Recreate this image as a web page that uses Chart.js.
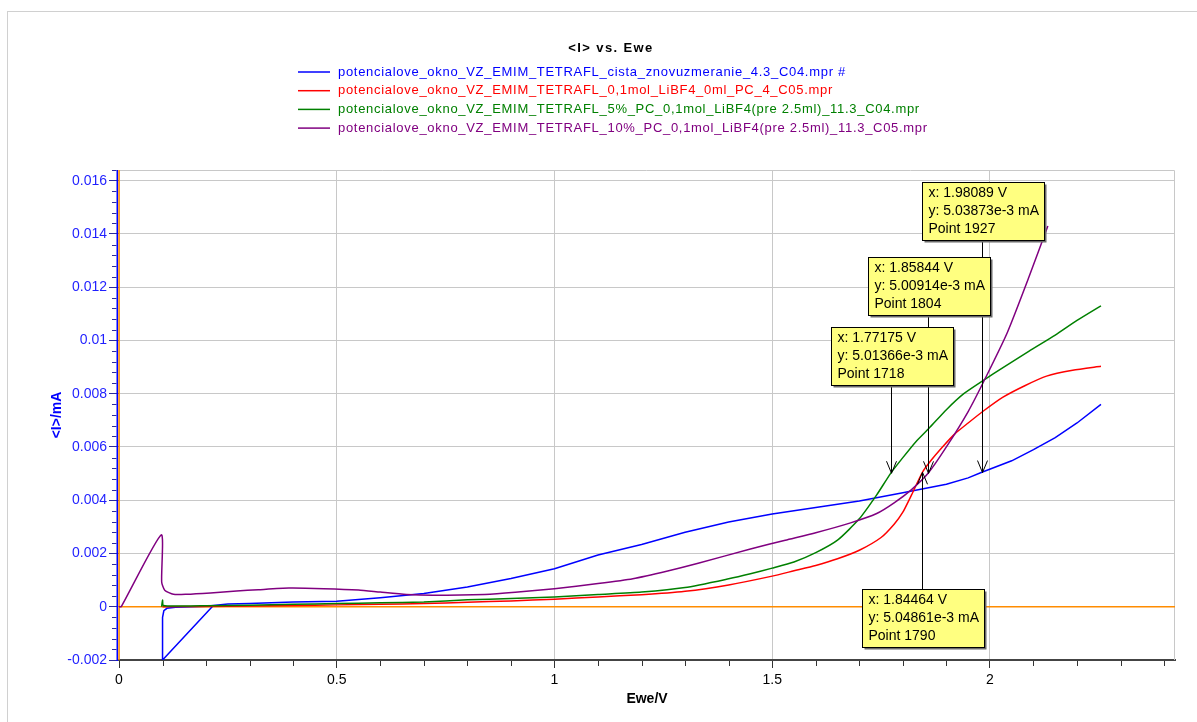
<!DOCTYPE html>
<html>
<head>
<meta charset="utf-8">
<script src="https://cdn.jsdelivr.net/npm/chart.js@4.4.1/dist/chart.umd.min.js"></script>
<style>
  html, body { margin: 0; padding: 0; background: #fff; }
  canvas { display: block; }
</style>
</head>
<body>
<canvas id="myChart" width="1197" height="722"></canvas>
<script>
// series names / colours
const seriesNames = [
  'potencialove_okno_VZ_EMIM_TETRAFL_cista_znovuzmeranie_4.3_C04.mpr #',
  'potencialove_okno_VZ_EMIM_TETRAFL_0,1mol_LiBF4_0ml_PC_4_C05.mpr',
  'potencialove_okno_VZ_EMIM_TETRAFL_5%_PC_0,1mol_LiBF4(pre 2.5ml)_11.3_C04.mpr',
  'potencialove_okno_VZ_EMIM_TETRAFL_10%_PC_0,1mol_LiBF4(pre 2.5ml)_11.3_C05.mpr'
];
const seriesColors = ['#0000ff', '#ff0000', '#008000', '#800080'];

// Ewe/V and <I>/mA
const blueX = [0.215, 0.1, 0.1, 0.103, 0.11, 0.13, 0.2, 0.25, 0.3, 0.4, 0.5, 0.6, 0.7, 0.8, 0.9, 1.0, 1.1, 1.2, 1.3, 1.4, 1.5, 1.6, 1.7, 1.8, 1.85, 1.9, 1.95, 1.98, 2.05, 2.1, 2.15, 2.2, 2.255];
const blueY = [0.00002, -0.002, -0.0004, -0.00015, -0.00006, -0.00002, 0.00002, 0.0001, 0.00012, 0.00018, 0.00021, 0.00034, 0.0005, 0.00074, 0.00106, 0.00143, 0.00194, 0.00234, 0.0028, 0.00318, 0.00348, 0.00373, 0.00397, 0.00428, 0.00444, 0.0046, 0.00484, 0.00504, 0.00548, 0.0059, 0.00635, 0.0069, 0.0076];

const redX = [0.1, 0.2, 0.3, 0.4, 0.5, 0.6, 0.7, 0.8, 0.9, 1.0, 1.1, 1.2, 1.3, 1.4, 1.5, 1.55, 1.6, 1.65, 1.7, 1.75, 1.78, 1.8, 1.82, 1.845, 1.865, 1.89, 1.92, 1.95, 1.985, 2.03, 2.08, 2.13, 2.19, 2.255];
const redY = [0.0, 0.00001, 0.00003, 0.00005, 0.00007, 0.00009, 0.00012, 0.00017, 0.00022, 0.00028, 0.00037, 0.00045, 0.00058, 0.00082, 0.00115, 0.00135, 0.00155, 0.0018, 0.00212, 0.0026, 0.0031, 0.00355, 0.0042, 0.00505, 0.0055, 0.00598, 0.0065, 0.0069, 0.00735, 0.00787, 0.0083, 0.00866, 0.00888, 0.00903];

const greenX = [0.098, 0.1, 0.102, 0.15, 0.2, 0.3, 0.4, 0.5, 0.6, 0.7, 0.8, 0.9, 1.0, 1.1, 1.2, 1.3, 1.4, 1.45, 1.5, 1.55, 1.6, 1.65, 1.7, 1.74, 1.772, 1.8, 1.83, 1.86, 1.9, 1.94, 1.985, 2.03, 2.09, 2.15, 2.2, 2.255];
const greenY = [0.0, 0.00025, 0.00005, 0.00003, 0.00004, 0.00006, 0.00009, 0.00012, 0.00015, 0.00018, 0.00026, 0.00031, 0.00037, 0.00046, 0.00055, 0.00072, 0.00105, 0.00124, 0.00145, 0.00168, 0.00203, 0.0025, 0.0033, 0.0042, 0.00501, 0.0056, 0.0062, 0.0067, 0.0074, 0.008, 0.0085, 0.00898, 0.0096, 0.0102, 0.01075, 0.0113];

const purpleX = [0.0, 0.005, 0.097, 0.098, 0.105, 0.125, 0.155, 0.21, 0.27, 0.32, 0.39, 0.47, 0.55, 0.6, 0.66, 0.72, 0.84, 0.91, 1.0, 1.1, 1.18, 1.26, 1.33, 1.45, 1.53, 1.6, 1.68, 1.74, 1.78, 1.82, 1.858, 1.9, 1.95, 1.99, 2.04, 2.09, 2.133];
const purpleY = [0.0, 0.0, 0.0027, 0.00093, 0.00062, 0.00047, 0.00047, 0.00052, 0.00059, 0.00064, 0.0007, 0.00068, 0.00063, 0.00055, 0.00046, 0.00043, 0.00046, 0.00054, 0.00068, 0.00087, 0.00105, 0.00134, 0.00163, 0.00217, 0.0025, 0.00278, 0.00315, 0.0035, 0.0039, 0.0044, 0.00501, 0.006, 0.00733, 0.0086, 0.0103, 0.0124, 0.0143];

const xTicks = [0, 0.5, 1, 1.5, 2];
const yTicks = [-0.002, 0, 0.002, 0.004, 0.006, 0.008, 0.01, 0.012, 0.014, 0.016];

// cursor markers
const markerX = [1.98089, 1.85844, 1.77175, 1.84464];
const markerY = [5.03873e-3, 5.00914e-3, 5.01366e-3, 5.04861e-3];
const markerPoint = [1927, 1804, 1718, 1790];
// box placement (pixels), kept apart from the data
const markerBoxTop = [182, 257, 327, 589];
const markerBelow = [false, false, false, true];

const FONT = '"Liberation Sans", Arial, sans-serif';
Chart.defaults.font.family = FONT;

const pts = (xs, ys) => xs.map((v, i) => ({ x: v, y: ys[i] }));
const allX = [blueX, redX, greenX, purpleX];
const allY = [blueY, redY, greenY, purpleY];

const extras = {
  id: 'extras',
  beforeDraw(chart) {
    const { ctx } = chart;
    ctx.save();
    ctx.strokeStyle = '#d0d0d0';
    ctx.lineWidth = 1;
    ctx.strokeRect(7.5, 11.5, 1300, 800);
    ctx.restore();
  },
  beforeDatasetsDraw(chart) {
    const { ctx, chartArea: a, scales: { x, y } } = chart;
    ctx.save();
    // frame top / right
    ctx.strokeStyle = '#c8c8c8';
    ctx.lineWidth = 1;
    ctx.beginPath();
    ctx.moveTo(a.left, a.top + 0.5);
    ctx.lineTo(a.right - 0.5, a.top + 0.5);
    ctx.lineTo(a.right - 0.5, a.bottom);
    ctx.stroke();
    // zero lines
    ctx.strokeStyle = '#ff8c00';
    ctx.lineWidth = 1.5;
    const y0 = y.getPixelForValue(0);
    const x0 = x.getPixelForValue(0);
    ctx.beginPath();
    ctx.moveTo(a.left, y0);
    ctx.lineTo(a.right, y0);
    ctx.moveTo(x0, a.top);
    ctx.lineTo(x0, a.bottom);
    ctx.stroke();
    ctx.restore();
  },
  afterDraw(chart) {
    const { ctx, chartArea: a, scales: { x, y } } = chart;
    ctx.save();

    // blue y axis line
    ctx.strokeStyle = '#0000ff';
    ctx.lineWidth = 1.5;
    ctx.beginPath();
    ctx.moveTo(a.left - 1.75, a.top);
    ctx.lineTo(a.left - 1.75, a.bottom + 1);
    ctx.stroke();

    // minor ticks
    ctx.lineWidth = 1;
    ctx.strokeStyle = '#333';
    ctx.beginPath();
    for (let k = 1; k <= 24; k++) {
      if (k % 5 === 0) continue;
      const px = Math.round(x.getPixelForValue(k / 10)) + 0.5;
      ctx.moveTo(px, a.bottom + 1);
      ctx.lineTo(px, a.bottom + 6);
    }
    ctx.stroke();
    ctx.strokeStyle = '#2a2aa0';
    ctx.beginPath();
    for (let k = -5; k <= 41; k++) {
      if (k % 5 === 0) continue;
      const py = Math.round(y.getPixelForValue(k * 0.0004)) + 0.5;
      if (py < a.top) continue;
      ctx.moveTo(a.left - 2.5, py);
      ctx.lineTo(a.left - 7, py);
    }
    ctx.stroke();

    // title
    ctx.fillStyle = '#000';
    ctx.font = 'bold 13px ' + FONT;
    ctx.textAlign = 'center';
    ctx.textBaseline = 'middle';
    ctx.letterSpacing = '1.4px';
    ctx.fillText('<I> vs. Ewe', 611, 48);

    // legend
    ctx.font = '13px ' + FONT;
    ctx.textAlign = 'left';
    ctx.letterSpacing = '0.7px';
    seriesNames.forEach((name, i) => {
      const ry = 72 + i * 18.7;
      ctx.strokeStyle = seriesColors[i];
      ctx.lineWidth = 1.5;
      ctx.beginPath();
      ctx.moveTo(298, ry);
      ctx.lineTo(330, ry);
      ctx.stroke();
      ctx.fillStyle = seriesColors[i];
      ctx.fillText(name, 338, ry);
    });
    ctx.letterSpacing = '0px';

    // marker leaders + arrows
    const bw = 122, bh = 58;
    const pos = markerX.map((mx, i) => ({
      px: Math.round(x.getPixelForValue(mx)) + 0.5,
      py: y.getPixelForValue(markerY[i])
    }));
    ctx.strokeStyle = '#000';
    ctx.lineWidth = 1;
    pos.forEach((p, i) => {
      const top = markerBoxTop[i];
      const from = markerBelow[i] ? top : top + bh;
      const dir = markerBelow[i] ? 1 : -1;
      ctx.beginPath();
      ctx.moveTo(p.px, from);
      ctx.lineTo(p.px, p.py);
      ctx.moveTo(p.px - 5, p.py + dir * 12);
      ctx.lineTo(p.px, p.py);
      ctx.lineTo(p.px + 5, p.py + dir * 12);
      ctx.stroke();
    });

    // marker boxes
    ctx.font = '14px ' + FONT;
    ctx.textBaseline = 'middle';
    pos.forEach((p, i) => {
      const left = Math.round(p.px - 61) + 0.5;
      const top = markerBoxTop[i] + 0.5;
      ctx.fillStyle = '#6b6b6b';
      ctx.fillRect(left + 2, top + 2, bw, bh);
      ctx.fillStyle = '#ffff80';
      ctx.fillRect(left, top, bw, bh);
      ctx.strokeStyle = '#000';
      ctx.strokeRect(left, top, bw, bh);
      ctx.fillStyle = '#000';
      const lines = [
        'x: ' + markerX[i] + ' V',
        'y: ' + markerY[i].toExponential(5) + ' mA',
        'Point ' + markerPoint[i]
      ];
      lines.forEach((t, j) => ctx.fillText(t, left + 6, top + 11 + j * 18));
    });

    ctx.restore();
  }
};

const data = {
  datasets: seriesNames.map((name, i) => ({
    label: name,
    data: pts(allX[i], allY[i]),
    borderColor: seriesColors[i],
    backgroundColor: seriesColors[i],
    borderWidth: 1.5,
    showLine: true,
    pointRadius: 0,
    tension: i === 0 ? 0 : 0.2,   // blue has the reversed start segment, keep it straight
    order: 3 - i
  }))
};

const config = {
  type: 'scatter',
  data: data,
  options: {
    responsive: false,
    animation: false,
    devicePixelRatio: 1,
    layout: {
      autoPadding: false,
      padding: { left: 8, top: 170, right: 22, bottom: 0 }
    },
    plugins: {
      legend: { display: false },
      tooltip: { enabled: false }
    },
    scales: {
      x: {
        type: 'linear',
        min: 0,
        max: 2.425,
        afterBuildTicks: (s) => { s.ticks = xTicks.map(v => ({ value: v })); },
        afterFit: (s) => { s.height = 62; },
        ticks: {
          color: '#000',
          font: { size: 14 },
          padding: 4,
          maxRotation: 0,
          autoSkip: false,
          callback: (v) => String(v)
        },
        grid: { color: '#c8c8c8', lineWidth: 1, tickColor: '#333', tickLength: 8 },
        border: { color: '#444', width: 2 },
        title: {
          display: true,
          text: 'Ewe/V',
          color: '#000',
          font: { size: 14, weight: 'bold' },
          padding: { top: 0, bottom: 14 }
        }
      },
      y: {
        type: 'linear',
        min: -0.002,
        max: 0.0164,
        afterBuildTicks: (s) => { s.ticks = yTicks.map(v => ({ value: v })); },
        afterFit: (s) => { s.width = 111; },
        ticks: {
          color: '#1f1fff',
          font: { size: 14 },
          padding: 2,
          callback: (v) => String(parseFloat(Number(v).toFixed(4)))
        },
        grid: { color: '#c8c8c8', lineWidth: 1, tickColor: '#2a2aa0', tickLength: 10 },
        border: { display: false },
        title: {
          display: true,
          text: '<I>/mA',
          color: '#0000ff',
          font: { size: 14, weight: 'bold' },
          padding: { top: 41, bottom: 0 }
        }
      }
    }
  },
  plugins: [extras]
};

new Chart(document.getElementById('myChart').getContext('2d'), config);
</script>
</body>
</html>
